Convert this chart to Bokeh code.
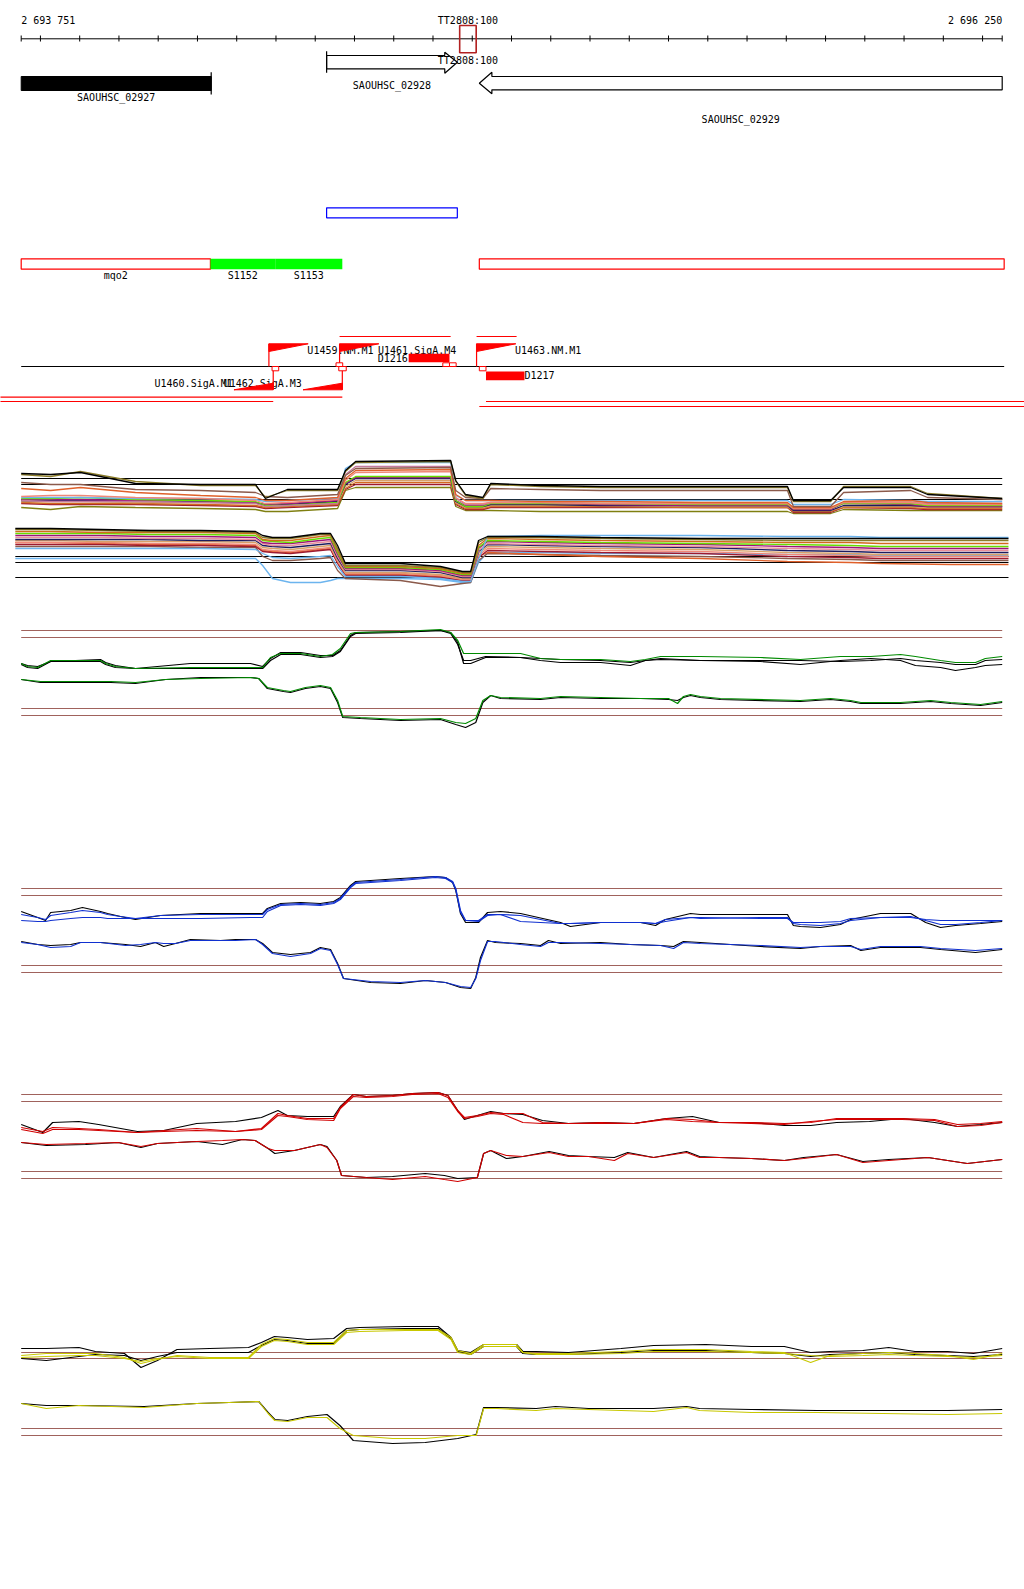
from bokeh.plotting import figure
from bokeh.models import Range1d
from bokeh.core.properties import value
from bokeh.embed import file_html
from bokeh.resources import INLINE

# ---------------- window / ruler ----------------
WIN_START = 2693751
WIN_END = 2696250
start_label = "2 693 751"
end_label = "2 696 250"
term_label = "TT2808:100"
term_start, term_end = 2694868, 2694910

# ---------------- genes ----------------
gene_names = ["SAOUHSC_02927", "SAOUHSC_02928", "SAOUHSC_02929"]
gene_starts = [2693751, 2694529, 2694918]
gene_ends = [2694235, 2694862, 2696250]
gene_strands = ["+", "+", "-"]

box_start, box_end = 2694529, 2694862

# ---------------- transcription units ----------------
tu_names = ["mqo2", "S1152", "S1153", ""]
tu_starts = [2693751, 2694233, 2694398, 2694918]
tu_ends = [2694233, 2694398, 2694569, 2696255]
tu_kind = ["outline", "fill", "fill", "outline"]

# ---------------- promoters / features ----------------
fwd_prom = ["U1459.NM.M1", "U1461.SigA.M4", "U1463.NM.M1"]
fwd_prom_pos = [2694382, 2694562, 2694911]
rev_prom = ["U1460.SigA.M1", "U1462.SigA.M3"]
rev_prom_pos = [2694393, 2694569]
prom_len = 100

d_names = ["D1216", "D1217"]
d_starts = [2694738, 2694935]
d_ends = [2694842, 2695033]
d_strand = ["+", "-"]

site_fwd_starts = [2694553, 2694825, 2694842]
site_fwd_ends = [2694570, 2694842, 2694859]
site_rev_starts = [2694390, 2694560, 2694918]
site_rev_ends = [2694407, 2694579, 2694935]

span_top_starts = [2694562, 2694911]
span_top_ends = [2694845, 2695013]
span_bot_starts = [2693690, 2693690, 2694935, 2694918]
span_bot_ends = [2694569, 2694393, 2696320, 2696320]
span_bot_row = [0, 1, 1, 2]

# ---------------- multi-condition tiling track ----------------
mf_pos = [2693751, 2693826, 2693902, 2694042, 2694208, 2694348, 2694373, 2694429, 2694557, 2694577,
          2694603, 2694845, 2694858, 2694883, 2694927, 2694947, 2695074, 2695227, 2695481, 2695703,
          2695718, 2695813, 2695846, 2696017, 2696060, 2696250]
mf_olive = [116, 114, 119, 109, 105, 105, 93, 100, 100, 119, 128, 129, 109, 95, 92, 106, 104, 103, 103, 103, 89, 89, 104, 104, 97, 92]
mf_brown = [108, 106, 106, 101, 100, 98, 94, 93, 96, 115, 122, 123, 100, 93, 92, 102, 101, 100, 100, 100, 84, 84, 98, 100, 93, 91]
mf_orange = [102, 100, 103, 98, 95, 93, 90, 90, 93, 112, 120, 121, 96, 90, 90, 90, 89, 89, 88, 88, 83, 83, 89, 90, 88, 87]
mf_salmon = [94, 95, 95, 93, 92, 90, 87, 88, 91, 110, 118, 119, 93, 87, 87, 88, 88, 87, 87, 87, 82, 82, 88, 88, 86, 86]
mf_lblue = [93, 93, 93, 92, 92, 91, 89, 90, 92, 122, 128, 128, 95, 90, 90, 90, 90, 90, 90, 90, 86, 86, 91, 90, 89, 89]
mf_lime = [92, 92, 93, 91, 90, 89, 85, 85, 88, 108, 114, 114, 90, 84, 84, 87, 87, 87, 86, 86, 82, 82, 87, 87, 85, 85]
mf_magenta = [91, 91, 91, 90, 90, 88, 86, 87, 90, 107, 113, 113, 90, 85, 85, 87, 87, 86, 85, 85, 81, 81, 87, 86, 84, 84]
mf_navy = [90, 90, 90, 90, 89, 88, 85, 86, 89, 106, 112, 112, 89, 84, 84, 86, 86, 85, 85, 85, 80, 80, 85, 85, 84, 84]
mf_tan = [89, 89, 89, 88, 88, 87, 84, 85, 88, 104, 110, 110, 88, 83, 83, 85, 85, 85, 84, 84, 80, 80, 84, 84, 83, 83]
mf_dorange = [88, 87, 87, 87, 86, 85, 83, 84, 86, 102, 108, 108, 87, 82, 82, 84, 84, 84, 83, 83, 79, 79, 83, 83, 82, 82]
mf_dred = [87, 86, 86, 86, 85, 84, 82, 83, 85, 101, 106, 106, 86, 81, 81, 83, 83, 83, 83, 83, 78, 78, 83, 82, 81, 81]
mf_olive2 = [83, 81, 84, 83, 82, 81, 79, 79, 82, 100, 103, 103, 84, 80, 80, 80, 79, 79, 79, 79, 77, 77, 81, 80, 80, 80]
mf_mauve = [90, 89, 89, 89, 88, 87, 84, 85, 87, 116, 124, 124, 92, 86, 86, 88, 88, 87, 87, 87, 83, 83, 88, 88, 87, 87]
mf_black = [117, 116, 118, 107, 106, 106, 92, 101, 101, 120, 129, 130, 110, 96, 93, 107, 105, 104, 104, 104, 90, 90, 103, 103, 96, 92]

mr_pos = [2693736, 2693826, 2693953, 2694080, 2694208, 2694348, 2694366, 2694391, 2694437, 2694513,
          2694539, 2694557, 2694577, 2694717, 2694819, 2694875, 2694896, 2694916, 2694939, 2695074,
          2695227, 2695481, 2695703, 2695864, 2695940, 2696119, 2696266]
mr_olive = [61, 61, 60, 59, 59, 58, 53, 52, 52, 56, 56, 42, 25, 25, 23, 18, 18, 48, 53, 53, 52, 51, 50, 50, 50, 50, 50]
mr_orange = [59, 59, 58, 58, 58, 57, 51, 50, 50, 54, 55, 40, 24, 24, 22, 17, 17, 45, 52, 51, 50, 49, 48, 48, 47, 47, 47]
mr_lime = [57, 57, 57, 56, 56, 55, 50, 49, 48, 52, 53, 38, 23, 23, 21, 16, 16, 43, 50, 49, 48, 47, 46, 45, 44, 44, 44]
mr_magenta = [55, 55, 55, 54, 54, 53, 48, 47, 47, 50, 51, 36, 22, 22, 20, 15, 15, 42, 49, 48, 47, 46, 44, 43, 42, 42, 42]
mr_pink = [53, 53, 53, 52, 52, 51, 47, 45, 45, 48, 49, 34, 21, 21, 19, 14, 14, 40, 47, 46, 45, 44, 42, 41, 40, 40, 40]
mr_navy = [51, 51, 51, 51, 50, 50, 45, 44, 43, 46, 47, 32, 20, 20, 18, 13, 13, 39, 46, 45, 44, 43, 40, 39, 38, 38, 38]
mr_tan = [50, 50, 49, 49, 49, 48, 43, 42, 41, 44, 45, 31, 18, 18, 16, 12, 12, 37, 44, 43, 42, 41, 38, 37, 36, 36, 36]
mr_salmon = [48, 48, 48, 47, 47, 46, 41, 40, 39, 42, 43, 29, 17, 17, 15, 11, 11, 35, 42, 41, 40, 39, 36, 35, 34, 34, 34]
mr_dred = [46, 46, 46, 45, 45, 44, 39, 38, 37, 40, 41, 27, 15, 15, 13, 10, 10, 33, 40, 39, 38, 37, 34, 33, 32, 32, 32]
mr_lblue = [42, 42, 42, 42, 42, 41, 37, 33, 32, 34, 35, 24, 14, 14, 12, 9, 9, 31, 54, 55, 55, 55, 54, 54, 53, 53, 53]
mr_lblue2 = [32, 32, 32, 32, 32, 32, 25, 12, 8, 8, 10, 12, 12, 12, 11, 8, 8, 28, 38, 38, 37, 37, 36, 36, 35, 35, 35]
mr_brown = [44, 44, 44, 44, 43, 43, 34, 30, 30, 32, 33, 20, 12, 10, 4, 7, 8, 30, 37, 36, 35, 34, 32, 31, 30, 30, 30]
mr_ored = [48, 48, 47, 46, 46, 45, 40, 39, 38, 41, 42, 28, 16, 16, 14, 10, 10, 34, 38, 36, 34, 32, 29, 28, 27, 26, 26]
mr_black = [62, 62, 61, 60, 60, 59, 55, 53, 53, 57, 57, 45, 27, 27, 24, 19, 19, 50, 54, 54, 53, 52, 52, 52, 52, 52, 52]

multi_thr_fwd = [112, 106, 91]
multi_thr_rev = [34, 28, 13]

# ---------------- green condition ----------------
gf_pos = [2693751, 2693767, 2693793, 2693826, 2693953, 2693966, 2693991, 2694042, 2694182, 2694335,
          2694366, 2694386, 2694412, 2694463, 2694513, 2694544, 2694564, 2694590, 2694603, 2694717,
          2694819, 2694845, 2694863, 2694878, 2694896, 2694934, 2695023, 2695074, 2695125, 2695227,
          2695303, 2695341, 2695380, 2695481, 2695634, 2695736, 2695838, 2695915, 2695991, 2696029,
          2696093, 2696131, 2696182, 2696207, 2696250]
gf_green = [67, 64, 63, 70, 70, 67, 64, 62, 63, 63, 63, 73, 77, 77, 74, 76, 82, 97, 98, 99, 101, 98, 90, 77, 77, 77, 77, 72, 71, 71, 69, 71, 74, 74, 73, 71, 74, 74, 76, 74, 70, 68, 68, 72, 74]
gf_black1 = [66, 63, 62, 69, 71, 68, 65, 62, 67, 67, 64, 72, 78, 78, 75, 75, 80, 95, 98, 99, 100, 98, 88, 67, 67, 73, 73, 72, 71, 70, 68, 70, 72, 70, 70, 70, 69, 70, 72, 70, 68, 66, 66, 70, 71]
gf_black2 = [67, 65, 64, 69, 69, 66, 63, 62, 62, 62, 62, 70, 76, 76, 73, 74, 79, 94, 97, 98, 100, 97, 86, 70, 70, 74, 73, 70, 68, 68, 65, 70, 71, 70, 69, 66, 70, 72, 70, 65, 63, 60, 63, 65, 66]
gr_pos = [2693751, 2693800, 2693979, 2694042, 2694119, 2694208, 2694335, 2694356, 2694378, 2694419,
          2694437, 2694475, 2694513, 2694539, 2694557, 2694570, 2694615, 2694717, 2694819, 2694858,
          2694883, 2694909, 2694927, 2694947, 2694972, 2695074, 2695125, 2695227, 2695329, 2695400,
          2695423, 2695438, 2695456, 2695481, 2695532, 2695736, 2695813, 2695864, 2695890, 2695991,
          2696068, 2696119, 2696195, 2696250]
gr_green = [51, 49, 49, 48, 51, 52, 53, 52, 43, 40, 39, 43, 45, 43, 30, 14, 13, 11, 12, 8, 7, 12, 30, 35, 33, 32, 34, 33, 32, 32, 27, 34, 36, 34, 32, 30, 32, 30, 28, 28, 30, 28, 26, 29]
gr_black = [51, 48, 48, 47, 51, 53, 53, 52, 42, 39, 38, 42, 44, 42, 28, 13, 12, 10, 11, 6, 3, 8, 28, 35, 32, 31, 33, 32, 32, 31, 30, 33, 35, 33, 31, 29, 31, 29, 27, 27, 29, 27, 25, 28]
green_thr = [100, 93, 22, 15]

# ---------------- blue condition ----------------
bf_pos = [2693751, 2693793, 2693813, 2693826, 2693877, 2693907, 2693953, 2693971, 2694004, 2694042,
          2694106, 2694208, 2694335, 2694366, 2694378, 2694412, 2694463, 2694513, 2694547, 2694564,
          2694590, 2694603, 2694717, 2694806, 2694832, 2694850, 2694858, 2694870, 2694883, 2694916,
          2694939, 2694972, 2695023, 2695125, 2695150, 2695227, 2695329, 2695367, 2695392, 2695456,
          2695481, 2695634, 2695703, 2695718, 2695736, 2695787, 2695838, 2695864, 2695940, 2696017,
          2696055, 2696093, 2696131, 2696195, 2696250]
bf_black = [79, 73, 70, 78, 80, 83, 79, 77, 74, 71, 75, 77, 77, 77, 82, 87, 88, 87, 89, 93, 105, 109, 112, 114, 113, 108, 100, 77, 68, 68, 78, 79, 77, 68, 64, 68, 68, 65, 71, 77, 76, 76, 76, 65, 64, 63, 66, 71, 77, 77, 68, 63, 65, 67, 69]
bf_blue1 = [76, 73, 71, 75, 78, 80, 78, 76, 74, 72, 75, 76, 76, 76, 81, 86, 87, 86, 88, 92, 104, 108, 111, 114, 113, 109, 102, 80, 70, 69, 75, 76, 75, 67, 67, 68, 68, 67, 69, 73, 72, 73, 73, 67, 66, 65, 67, 70, 73, 74, 70, 66, 66, 68, 70]
bf_blue2 = [70, 69, 69, 70, 72, 73, 73, 72, 72, 72, 72, 72, 73, 73, 79, 85, 86, 85, 87, 91, 103, 107, 110, 113, 112, 108, 101, 78, 70, 70, 76, 76, 69, 67, 67, 68, 68, 67, 71, 73, 73, 72, 72, 68, 68, 68, 69, 72, 73, 73, 71, 70, 70, 70, 70]
br_pos = [2693751, 2693793, 2693826, 2693877, 2693902, 2693953, 2694017, 2694055, 2694093, 2694114,
          2694144, 2694182, 2694259, 2694297, 2694348, 2694366, 2694391, 2694437, 2694488, 2694513,
          2694539, 2694557, 2694572, 2694641, 2694717, 2694781, 2694832, 2694870, 2694896, 2694909,
          2694921, 2694939, 2694959, 2695023, 2695074, 2695094, 2695125, 2695227, 2695303, 2695380,
          2695413, 2695438, 2695481, 2695634, 2695736, 2695787, 2695864, 2695890, 2695940, 2696042,
          2696093, 2696182, 2696250]
br_black = [49, 46, 45, 46, 48, 48, 46, 44, 48, 44, 47, 51, 50, 51, 51, 47, 38, 36, 38, 43, 41, 27, 12, 8, 7, 10, 8, 3, 2, 13, 33, 50, 48, 47, 45, 50, 47, 48, 46, 45, 44, 49, 48, 44, 42, 44, 45, 40, 43, 43, 41, 38, 41]
br_blue = [48, 46, 43, 44, 48, 48, 45, 46, 48, 47, 47, 50, 50, 50, 51, 46, 37, 34, 37, 42, 40, 26, 12, 9, 8, 10, 8, 4, 3, 12, 30, 49, 49, 46, 44, 48, 48, 47, 46, 45, 42, 48, 47, 45, 43, 44, 44, 41, 44, 44, 42, 40, 42]
blue_thr = [102, 95, 25, 18]

# ---------------- red condition ----------------
rf_pos = [2693751, 2693806, 2693831, 2693898, 2693948, 2694047, 2694114, 2694198, 2694297, 2694363,
          2694405, 2694429, 2694480, 2694547, 2694564, 2694597, 2694630, 2694697, 2694747, 2694813,
          2694838, 2694863, 2694880, 2694913, 2694947, 2694980, 2695029, 2695079, 2695145, 2695229,
          2695312, 2695395, 2695461, 2695529, 2695611, 2695695, 2695762, 2695828, 2695912, 2695994,
          2696078, 2696136, 2696195, 2696250]
rf_red1 = [63, 59, 63, 62, 61, 58, 60, 62, 59, 62, 77, 75, 72, 72, 83, 96, 94, 95, 97, 98, 95, 80, 73, 75, 78, 77, 77, 68, 67, 68, 67, 72, 71, 68, 68, 67, 68, 72, 72, 72, 71, 66, 67, 69]
rf_black = [66, 58, 68, 69, 66, 59, 60, 67, 69, 73, 80, 75, 74, 74, 84, 96, 94, 95, 97, 98, 95, 80, 71, 75, 79, 77, 76, 70, 67, 68, 67, 72, 74, 68, 68, 65, 65, 68, 69, 72, 68, 64, 66, 68]
rf_red2 = [61, 57, 61, 61, 60, 58, 59, 60, 59, 61, 75, 74, 71, 70, 82, 94, 93, 94, 96, 97, 93, 79, 72, 74, 77, 76, 68, 67, 67, 67, 67, 71, 69, 68, 67, 66, 69, 71, 71, 71, 70, 64, 65, 68]
rr_pos = [2693751, 2693815, 2693915, 2693998, 2694056, 2694098, 2694198, 2694264, 2694314, 2694347,
          2694380, 2694397, 2694447, 2694513, 2694530, 2694555, 2694567, 2694630, 2694697, 2694780,
          2694829, 2694863, 2694913, 2694929, 2694947, 2694987, 2695029, 2695096, 2695145, 2695196,
          2695262, 2695296, 2695362, 2695446, 2695479, 2695529, 2695611, 2695695, 2695744, 2695828,
          2695895, 2695961, 2696061, 2696161, 2696250]
rr_red = [48, 46, 47, 48, 44, 47, 49, 50, 51, 50, 42, 40, 40, 46, 43, 30, 15, 13, 11, 14, 11, 9, 13, 37, 40, 35, 34, 38, 34, 34, 30, 37, 33, 38, 33, 33, 32, 30, 32, 36, 28, 30, 33, 27, 31]
rr_black = [48, 45, 46, 48, 43, 47, 49, 46, 51, 50, 42, 37, 40, 46, 44, 30, 15, 13, 14, 17, 15, 12, 13, 37, 40, 32, 34, 39, 35, 34, 33, 38, 33, 39, 34, 33, 32, 30, 33, 36, 29, 31, 33, 27, 31]
red_thr = [96, 89, 19, 12]

# ---------------- yellow condition ----------------
yf_pos = [2693751, 2693815, 2693898, 2693940, 2694014, 2694056, 2694098, 2694148, 2694231, 2694330,
          2694363, 2694396, 2694429, 2694480, 2694547, 2694580, 2694613, 2694730, 2694813, 2694846,
          2694863, 2694896, 2694929, 2695013, 2695029, 2695063, 2695145, 2695279, 2695362, 2695495,
          2695611, 2695695, 2695762, 2695811, 2695895, 2695961, 2696028, 2696111, 2696177, 2696250]
yf_yellow1 = [105, 107, 107, 107, 103, 97, 101, 105, 103, 103, 116, 122, 121, 118, 118, 130, 131, 131, 131, 123, 110, 107, 116, 116, 108, 107, 107, 109, 111, 111, 109, 108, 98, 105, 107, 108, 107, 105, 101, 107]
yf_yellow2 = [103, 104, 105, 105, 102, 99, 102, 104, 102, 102, 114, 120, 119, 116, 116, 128, 129, 130, 130, 121, 108, 106, 114, 114, 108, 106, 106, 107, 109, 109, 108, 107, 105, 104, 105, 106, 105, 104, 103, 105]
yf_black1 = [112, 112, 113, 109, 107, 93, 100, 111, 112, 113, 118, 124, 123, 121, 122, 132, 133, 134, 134, 123, 110, 108, 116, 116, 109, 109, 108, 112, 115, 116, 114, 114, 108, 109, 110, 113, 109, 109, 107, 112]
yf_black2 = [102, 100, 104, 106, 105, 100, 104, 108, 108, 108, 115, 121, 120, 117, 117, 130, 131, 132, 132, 122, 109, 106, 114, 114, 107, 106, 106, 108, 110, 110, 108, 107, 104, 106, 107, 108, 106, 105, 104, 106]
yr_pos = [2693751, 2693815, 2693898, 2694064, 2694198, 2694281, 2694356, 2694380, 2694397, 2694430,
          2694480, 2694530, 2694563, 2694597, 2694697, 2694780, 2694863, 2694910, 2694929, 2694963,
          2695063, 2695112, 2695196, 2695362, 2695446, 2695479, 2695611, 2695778, 2695945, 2696111,
          2696250]
yr_yellow = [57, 52, 55, 53, 57, 58, 59, 47, 40, 39, 43, 43, 32, 25, 22, 22, 25, 25, 52, 52, 50, 52, 51, 49, 53, 50, 48, 48, 47, 46, 47]
yr_black = [57, 55, 55, 54, 57, 58, 59, 48, 41, 40, 44, 46, 35, 20, 17, 18, 22, 26, 53, 53, 52, 54, 52, 52, 54, 52, 51, 50, 50, 50, 51]
yellow_thr = [108, 102, 32, 25]

# ================= drawing =================
MONO = value("DejaVu Sans Mono")
FS = "10px"
FIG_W, FIG_H = 1024, 1580
PAGE_TOP = 0
PAGE_BOTTOM = PAGE_TOP + FIG_H
BP_PER_PX = 2.5474
X_LEFT = WIN_START - (20.7 - PAGE_TOP) * BP_PER_PX
X_RIGHT = X_LEFT + FIG_W * BP_PER_PX

# each expression panel: signal 0 sits at this page row
track_base = {"multi": 590, "green": 730, "blue": 990, "red": 1190, "yellow": 1460}

p = figure(width=FIG_W, height=FIG_H, output_backend="svg", toolbar_location=None,
           x_range=Range1d(X_LEFT, X_RIGHT), y_range=Range1d(PAGE_BOTTOM, PAGE_TOP),
           x_axis_type=None, y_axis_type=None, min_border=0)
p.grid.visible = False
p.outline_line_color = None
p.background_fill_color = "white"
p.extra_y_ranges = {k: Range1d(start=b - PAGE_BOTTOM, end=b - PAGE_TOP) for k, b in track_base.items()}


def txt(x, y, t, align="left", color="black"):
    p.text(x=x, y=y, text=t, text_font=MONO, text_font_size=FS, text_align=align,
           text_baseline="middle", text_color=color)


# ---- ruler ----
RY = 38.3
tick_pos = [WIN_START] + list(range(2693800, WIN_END, 100)) + [WIN_END]
p.segment(x0=[WIN_START], x1=[WIN_END], y0=[RY], y1=[RY], line_color="black", line_width=1)
p.segment(x0=tick_pos, x1=tick_pos, y0=[RY - 3.3] * len(tick_pos), y1=[RY + 2.7] * len(tick_pos),
          line_color="black", line_width=1)
txt([WIN_START], [20], [start_label])
txt([WIN_END], [20], [end_label], align="right")
term_mid = (term_start + term_end) / 2
txt([term_mid], [20], [term_label], align="center")
p.quad(left=[term_start], right=[term_end], top=[25], bottom=[52.3], fill_color=None,
       line_color="#b22222", line_width=1.6)

# ---- genes ----
for name, s, e, strand, i in zip(gene_names, gene_starts, gene_ends, gene_strands, range(3)):
    mid = (s + e) / 2
    head = 32
    if i == 0:
        p.quad(left=[s], right=[e], top=[76], bottom=[90], fill_color="black", line_color="black")
        p.segment(x0=[e], x1=[e], y0=[71.7], y1=[94], line_color="black", line_width=1.2)
        txt([mid], [97.3], [name], align="center")
    elif strand == "+":
        y0, y1, ym = 55, 68.3, 61.7
        p.patch(x=[s, e - head, e - head, e, e - head, e - head, s],
                y=[y0, y0, y0 - 3.3, ym, y1 + 4.4, y1, y1],
                fill_color="white", line_color="black", line_width=1.2)
        p.segment(x0=[s], x1=[s], y0=[50.7], y1=[72.3], line_color="black", line_width=1.2)
        txt([mid], [85], [name], align="center")
    else:
        y0, y1, ym = 76, 89.3, 82.7
        p.patch(x=[e, s + head, s + head, s, s + head, s + head, e],
                y=[y0, y0, y0 - 4.3, ym, y1 + 4, y1, y1],
                fill_color="white", line_color="black", line_width=1.2)
        txt([mid], [118.5], [name], align="center")

# terminator label repeated on the gene row, drawn over the arrow
txt([term_mid], [59.5], [term_label], align="center")

# ---- blue box ----
p.quad(left=[box_start], right=[box_end], top=[207.3], bottom=[217.3], fill_color=None,
       line_color="#0000ff", line_width=1.2)

# ---- transcription units ----
for name, s, e, kind in zip(tu_names, tu_starts, tu_ends, tu_kind):
    if kind == "fill":
        p.quad(left=[s], right=[e], top=[258.3], bottom=[268.7], fill_color="#00ff00", line_color=None)
    else:
        p.quad(left=[s], right=[e], top=[258.3], bottom=[268.7], fill_color=None,
               line_color="#ff0000", line_width=1.2)
    if name:
        txt([(s + e) / 2], [274.5], [name], align="center")

# ---- feature track ----
BASE = 366
p.segment(x0=[WIN_START], x1=[2696255], y0=[BASE], y1=[BASE], line_color="black", line_width=1.2)
RED = "#ff0000"
# labels first (flags are drawn over them)
txt([x + prom_len - 2 for x in fwd_prom_pos], [350.3] * 3, fwd_prom)
txt([x - prom_len - 3 for x in rev_prom_pos], [383.0] * 2, rev_prom, align="right")
for n, s, e, st in zip(d_names, d_starts, d_ends, d_strand):
    if st == "+":
        txt([s - 2], [357.6], [n], align="right")
        p.quad(left=[s], right=[e], top=[353.3], bottom=[361.7], fill_color=RED, line_color=None)
    else:
        txt([e], [375.2], [n], align="left")
        p.quad(left=[s], right=[e], top=[371], bottom=[379.7], fill_color=RED, line_color=None)

for x in fwd_prom_pos:
    p.segment(x0=[x], x1=[x], y0=[343.3], y1=[BASE], line_color=RED, line_width=1.2)
    p.patch(x=[x, x + prom_len, x], y=[343.3, 343.3, 351], fill_color=RED, line_color=RED, line_width=1)
for x in rev_prom_pos:
    p.segment(x0=[x], x1=[x], y0=[BASE], y1=[389.3], line_color=RED, line_width=1.2)
    p.patch(x=[x, x - prom_len, x], y=[389.3, 389.3, 382.7], fill_color=RED, line_color=RED, line_width=1)

p.quad(left=site_fwd_starts, right=site_fwd_ends, top=[362.3] * 3, bottom=[BASE] * 3,
       fill_color="white", line_color=RED, line_width=1)
p.quad(left=site_rev_starts, right=site_rev_ends, top=[BASE] * 3, bottom=[370.3] * 3,
       fill_color="white", line_color=RED, line_width=1)

p.segment(x0=span_top_starts, x1=span_top_ends, y0=[336] * 2, y1=[336] * 2, line_color=RED, line_width=1.2)
row_y = [396.7, 401.0, 406.0]
p.segment(x0=span_bot_starts, x1=span_bot_ends, y0=[row_y[r] for r in span_bot_row],
          y1=[row_y[r] for r in span_bot_row], line_color=RED, line_width=1.2)


# ---- expression tracks ----
def thresholds(track, levels, color, x0=WIN_START, x1=WIN_END):
    n = len(levels)
    p.segment(x0=[x0] * n, x1=[x1] * n, y0=levels, y1=levels, line_color=color,
              line_width=1.1, y_range_name=track)


def lines(track, pos, series, colors, width=1.2):
    for vals, c in zip(series, colors):
        p.line(pos, vals, line_color=c, line_width=width, y_range_name=track)


# multi
thresholds("multi", multi_thr_fwd, "black", WIN_START, WIN_END)
thresholds("multi", multi_thr_rev, "black", 2693736, 2696266)
lines("multi", mf_pos,
      [mf_olive2, mf_dred, mf_dorange, mf_tan, mf_navy, mf_magenta, mf_lime, mf_lblue, mf_mauve,
       mf_salmon, mf_orange, mf_brown, mf_olive, mf_black],
      ["#7f7f10", "#9e1a30", "#d2691e", "#d8a068", "#1c1c60", "#a0157a", "#66dd00", "#6cb4ee",
       "#c47a9e", "#f08878", "#e0602a", "#8b5a4b", "#8b7d2a", "black"], width=1.3)
lines("multi", mr_pos,
      [mr_lblue2, mr_brown, mr_ored, mr_dred, mr_salmon, mr_tan, mr_navy, mr_pink, mr_magenta,
       mr_lime, mr_orange, mr_lblue, mr_olive, mr_black],
      ["#6cb4ee", "#8b5a4b", "#e0602a", "#9e1a30", "#f08878", "#d8a068", "#1c1c60", "#e8909a",
       "#a0157a", "#66dd00", "#d2691e", "#6cb4ee", "#8b7d2a", "black"], width=1.3)

BROWN = "#a0625c"
thresholds("green", green_thr, BROWN)
lines("green", gf_pos, [gf_black2, gf_black1, gf_green], ["black", "black", "#008a00"])
lines("green", gr_pos, [gr_black, gr_green], ["black", "#008a00"])

thresholds("blue", blue_thr, BROWN)
lines("blue", bf_pos, [bf_black, bf_blue2, bf_blue1], ["black", "#1030d0", "#1030d0"])
lines("blue", br_pos, [br_black, br_blue], ["black", "#1030d0"])

thresholds("red", red_thr, BROWN)
lines("red", rf_pos, [rf_black, rf_red2, rf_red1], ["black", "#d00000", "#d00000"])
lines("red", rr_pos, [rr_black, rr_red], ["black", "#d00000"])

thresholds("yellow", yellow_thr, BROWN)
lines("yellow", yf_pos, [yf_black1, yf_black2, yf_yellow2, yf_yellow1],
      ["black", "black", "#c8c800", "#c8c800"])
lines("yellow", yr_pos, [yr_black, yr_yellow], ["black", "#c8c800"])

open("out.html", "w").write(file_html(p, INLINE))
